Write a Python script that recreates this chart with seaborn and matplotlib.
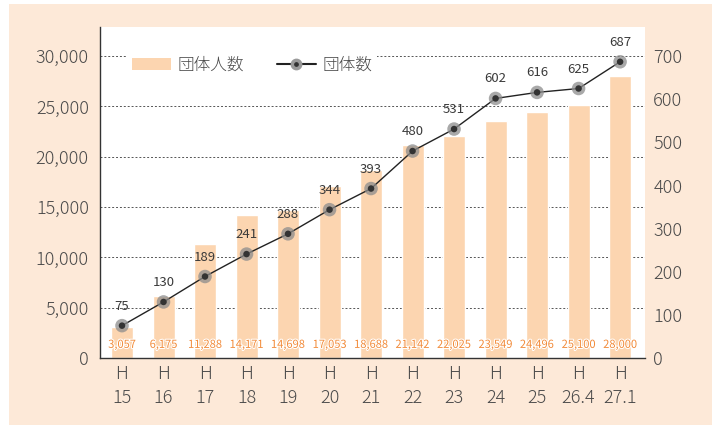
import numpy as np
import pandas as pd
import seaborn as sns
import matplotlib.pyplot as plt
import matplotlib.patheffects as pe
from matplotlib.patches import Rectangle
from matplotlib.lines import Line2D
from matplotlib.patches import Patch

# =========================================================
# DATA
# =========================================================
years = ["H\n15", "H\n16", "H\n17", "H\n18", "H\n19", "H\n20", "H\n21",
         "H\n22", "H\n23", "H\n24", "H\n25", "H\n26.4", "H\n27.1"]
members = [3057, 6175, 11288, 14171, 14698, 17053, 18688,
           21142, 22025, 23549, 24496, 25100, 28000]
groups = [75, 130, 189, 241, 288, 344, 393, 480, 531, 602, 616, 625, 687]

df = pd.DataFrame({"year": years, "members": members, "groups": groups})
df["pos"] = np.arange(len(df))

# =========================================================
# STYLE
# =========================================================
sns.set_style("white")
plt.rcParams['font.family'] = ['Noto Sans CJK JP', 'DejaVu Sans']
plt.rcParams['font.weight'] = 'light'
text_col = "#4a4a4a"
bar_col = "#fcd5b0"
bg_col = "#fde9d8"

fig = plt.figure(figsize=(7.2, 4.28), dpi=100, facecolor="white")
fig.patches.append(Rectangle((9 / 720, 3 / 428), 703 / 720, 421 / 428,
                             transform=fig.transFigure, facecolor=bg_col,
                             edgecolor="none", zorder=-10))
ax = fig.add_axes([100 / 720, 1 - 358 / 428, 545 / 720, 331 / 428])
ax.set_facecolor("white")

# ------ bars (left axis) ------
sns.barplot(ax=ax, data=df, x="pos", y="members", color=bar_col,
            width=0.53, saturation=1, zorder=2)
ax.set_xlim(-0.53, 12.6)
ax.set_ylim(0, 32900)
ax.set_yticks(np.arange(0, 30001, 5000))
ax.set_yticklabels([f"{v:,}" for v in range(0, 30001, 5000)])
ax.set_xticks(df["pos"])
ax.set_xticklabels(df["year"])
ax.set_xlabel("")
ax.set_ylabel("")
for y in range(5000, 30001, 5000):
    ax.axhline(y, color="#555555", lw=0.7, ls=(0, (2, 2)), zorder=1)
for sp in ["top", "right"]:
    ax.spines[sp].set_visible(False)
for sp in ["left", "bottom"]:
    ax.spines[sp].set_color("#333333")
    ax.spines[sp].set_linewidth(1.0)
ax.tick_params(axis="both", length=0, labelsize=13, labelcolor=text_col)
ax.tick_params(axis="y", pad=8)
ax.tick_params(axis="x", pad=5)
for label in ax.get_xticklabels():
    label.set_linespacing(1.45)

for p, v in zip(df["pos"], df["members"]):
    ax.text(p, 1300, f"{v:,}", ha="center", va="center", fontsize=8,
            fontweight="normal", color="#f28a38", zorder=5,
            path_effects=[pe.withStroke(linewidth=1.5, foreground="white")])

# ------ line (right axis) ------
ax2 = ax.twinx()
ax2.set_ylim(0, 32900 * 700 / 30000)
sns.lineplot(ax=ax2, data=df, x="pos", y="groups", color="#222222",
             lw=1.0, zorder=3)
ax2.scatter(df["pos"], df["groups"], s=95, color="#8c8c8c", alpha=0.75,
            edgecolors="none", zorder=4)
ax2.scatter(df["pos"], df["groups"], s=22, color="#333333",
            edgecolors="none", zorder=5)
for p, v in zip(df["pos"], df["groups"]):
    ax2.text(p, v + 30, str(v), ha="center", va="bottom", fontsize=9.5,
             fontweight="normal", color="#3a3a3a", zorder=6)
ax2.set_yticks(np.arange(0, 701, 100))
ax2.set_ylabel("")
ax2.set_xlabel("")
for sp in ["top", "right", "left", "bottom"]:
    ax2.spines[sp].set_visible(False)
ax2.tick_params(axis="y", length=0, labelsize=13, labelcolor=text_col, pad=6)
ax2.set_xlim(-0.53, 12.6)

# ------ legend ------
handles = [Patch(facecolor=bar_col, edgecolor="none"),
           Line2D([0], [0], color="#222222", lw=1.5, marker="o",
                  markersize=6, markerfacecolor="#333333",
                  markeredgecolor="#9a9a9a", markeredgewidth=2.5)]
leg = ax2.legend(handles, ["団体人数", "団体数"], loc="upper left",
                 bbox_to_anchor=(0.035, 0.95), ncol=2, frameon=True,
                 fontsize=12, handlelength=2.3, handletextpad=0.4,
                 columnspacing=2.0, borderpad=0.3)
leg.get_frame().set_facecolor("white")
leg.get_frame().set_edgecolor("none")
leg.get_frame().set_alpha(1)
for t in leg.get_texts():
    t.set_color(text_col)

fig.savefig("out.png", dpi=100, facecolor="white")
